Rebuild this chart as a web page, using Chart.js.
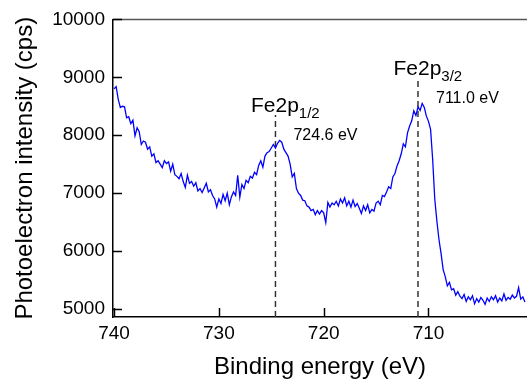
<!DOCTYPE html>
<html>
<head>
<meta charset="utf-8">
<script src="https://cdn.jsdelivr.net/npm/chart.js@4.4.1/dist/chart.umd.min.js"></script>
<style>
  html, body { margin: 0; padding: 0; background: #fff; }
  #wrap { width: 527px; height: 380px; position: relative; }
</style>
</head>
<body>
<div id="wrap"><canvas id="c" width="527" height="380"></canvas></div>
<script>
// Binding energy (eV)
const energy = [
740.0,739.8,739.6,739.4,739.2,739.0,738.8,738.6,738.4,738.2,
738.0,737.8,737.6,737.4,737.2,737.0,736.8,736.6,736.4,736.2,
736.0,735.8,735.6,735.4,735.2,735.0,734.8,734.6,734.4,734.2,
734.0,733.8,733.6,733.4,733.2,733.0,732.8,732.6,732.4,732.2,
732.0,731.8,731.6,731.4,731.2,731.0,730.8,730.6,730.4,730.2,
730.0,729.8,729.6,729.4,729.2,729.0,728.8,728.6,728.4,728.2,
728.0,727.8,727.6,727.4,727.2,727.0,726.8,726.6,726.4,726.2,
726.0,725.8,725.6,725.4,725.2,725.0,724.8,724.6,724.4,724.2,
724.0,723.8,723.6,723.4,723.2,723.0,722.8,722.6,722.4,722.2,
722.0,721.8,721.6,721.4,721.2,721.0,720.8,720.6,720.4,720.2,
720.0,719.8,719.6,719.4,719.2,719.0,718.8,718.6,718.4,718.2,
718.0,717.8,717.6,717.4,717.2,717.0,716.8,716.6,716.4,716.2,
716.0,715.8,715.6,715.4,715.2,715.0,714.8,714.6,714.4,714.2,
714.0,713.8,713.6,713.4,713.2,713.0,712.8,712.6,712.4,712.2,
712.0,711.8,711.6,711.4,711.2,711.0,710.8,710.6,710.4,710.2,
710.0,709.8,709.6,709.4,709.2,709.0,708.8,708.6,708.4,708.2,
708.0,707.8,707.6,707.4,707.2,707.0,706.8,706.6,706.4,706.2,
706.0,705.8,705.6,705.4,705.2,705.0,704.8,704.6,704.4,704.2,
704.0,703.8,703.6,703.4,703.2,703.0,702.8,702.6,702.4,702.2,
702.0,701.8,701.6,701.4,701.2,701.0,700.8
];
// Photoelectron intensity (cps)
const intensity = [
8800,8840,8620,8480,8500,8490,8300,8320,8200,8260,
7990,8130,8060,7840,7900,7880,7760,7800,7640,7680,
7530,7560,7500,7440,7560,7510,7540,7380,7500,7320,
7290,7250,7340,7200,7100,7310,7170,7200,7120,7180,
7040,7080,7010,7090,7170,7020,7060,6960,6900,6760,
6900,6820,6980,6870,7000,6800,6940,7020,6960,7310,
6930,7150,7080,7220,7180,7290,7260,7360,7320,7480,
7560,7450,7640,7700,7720,7780,7840,7780,7860,7910,
7880,7760,7700,7640,7500,7280,7340,7080,7000,6960,
6880,6870,6780,6760,6700,6720,6630,6700,6640,6700,
6660,6490,6840,6760,6830,6800,6860,6780,6900,6830,
6920,6780,6860,6760,6880,6770,6820,6740,6650,6780,
6700,6800,6660,6720,6690,6830,6860,6800,6960,6940,
7020,7110,7080,7280,7340,7470,7560,7680,7850,7800,
8040,8160,8250,8420,8340,8490,8430,8550,8480,8330,
8240,8100,7580,6900,6520,6200,5960,5680,5560,5400,
5460,5330,5350,5240,5300,5220,5180,5250,5130,5210,
5160,5230,5090,5180,5120,5200,5150,5080,5190,5130,
5210,5160,5230,5120,5190,5140,5260,5150,5200,5170,
5240,5190,5220,5370,5170,5210,5120
];
const xTicks = [740, 730, 720, 710];
const yTicks = [5000, 6000, 7000, 8000, 9000, 10000];
const peakEnergy = [724.6, 711.0];
const peakLineTop = [8350, 8990];
const peakLabel = ['Fe2p', 'Fe2p'];
const peakSub = ['1/2', '3/2'];
const peakValue = ['724.6 eV', '711.0 eV'];

const FONT = '"Liberation Sans", Arial, Helvetica, sans-serif';
const X_MIN = 700.6, X_MAX = 740.1, Y_MIN = 4862, Y_MAX = 10000;

const datasets = [{
  data: energy.map((e, i) => ({x: e, y: intensity[i]})),
  borderColor: '#0000ff',
  borderWidth: 1.3,
  pointRadius: 0,
  tension: 0,
  fill: false
}];
peakEnergy.forEach((e, i) => {
  datasets.push({
    data: [{x: e, y: Y_MIN}, {x: e, y: peakLineTop[i]}],
    borderColor: '#333333',
    borderWidth: 1.5,
    borderDash: [6, 4],
    pointRadius: 0,
    fill: false
  });
});

const decor = {
  id: 'decor',
  afterDraw(chart) {
    const {ctx, chartArea: a, scales: {x, y}} = chart;
    ctx.save();
    ctx.strokeStyle = '#555';
    ctx.lineWidth = 1.5;
    ctx.beginPath();
    ctx.moveTo(a.left, a.top);
    ctx.lineTo(a.right, a.top);
    ctx.stroke();
    ctx.strokeStyle = '#000';
    ctx.lineWidth = 1.5;
    ctx.beginPath();
    yTicks.forEach(v => {
      const py = Math.round(y.getPixelForValue(v)) + 0.5;
      ctx.moveTo(a.left, py);
      ctx.lineTo(a.left + 9, py);
    });
    xTicks.forEach(v => {
      const px = Math.round(x.getPixelForValue(v)) + 0.5;
      ctx.moveTo(px, a.bottom);
      ctx.lineTo(px, a.bottom - 9);
    });
    ctx.stroke();
    ctx.fillStyle = '#000';
    ctx.textBaseline = 'alphabetic';
    ctx.textAlign = 'left';
    peakEnergy.forEach((e, i) => {
      const px = x.getPixelForValue(e);
      const topPx = y.getPixelForValue(peakLineTop[i]);
      ctx.font = '21px ' + FONT;
      const lx = px - 24.5;
      const ly = topPx - 3;
      ctx.fillText(peakLabel[i], lx, ly);
      const w = ctx.measureText(peakLabel[i]).width;
      ctx.font = '15px ' + FONT;
      ctx.fillText(peakSub[i], lx + w, ly + 6.5);
      ctx.font = '16px ' + FONT;
      ctx.fillText(peakValue[i], px + 18, topPx + 25);
    });
    ctx.restore();
  }
};

new Chart(document.getElementById('c'), {
  type: 'line',
  data: { datasets },
  options: {
    responsive: false,
    animation: false,
    devicePixelRatio: 1,
    layout: { padding: { top: 19, right: 0, left: 0, bottom: 0 } },
    plugins: { legend: { display: false }, tooltip: { enabled: false } },
    scales: {
      x: {
        type: 'linear',
        reverse: true,
        min: X_MIN,
        max: X_MAX,
        afterBuildTicks: s => { s.ticks = xTicks.map(v => ({value: v})); },
        afterFit: s => { s.height = 63; },
        grid: { display: false, drawTicks: false },
        border: { display: true, color: '#000', width: 1.5 },
        ticks: { color: '#000', font: { size: 19, family: FONT }, padding: 5, maxRotation: 0, autoSkip: false },
        title: { display: true, text: 'Binding energy (eV)', color: '#000', font: { size: 24, family: FONT }, padding: { top: 0, bottom: -2 } }
      },
      y: {
        type: 'linear',
        min: Y_MIN,
        max: Y_MAX,
        afterBuildTicks: s => { s.ticks = yTicks.map(v => ({value: v})); },
        afterFit: s => { s.width = 113; },
        grid: { display: false, drawTicks: false },
        border: { display: true, color: '#000', width: 1.5 },
        ticks: { color: '#000', font: { size: 19, family: FONT }, padding: 8, autoSkip: false, callback: v => String(v) },
        title: { display: true, text: 'Photoelectron intensity (cps)', color: '#000', font: { size: 24, family: FONT }, padding: { top: 11, bottom: 0 } }
      }
    }
  },
  plugins: [decor]
});
</script>
</body>
</html>
